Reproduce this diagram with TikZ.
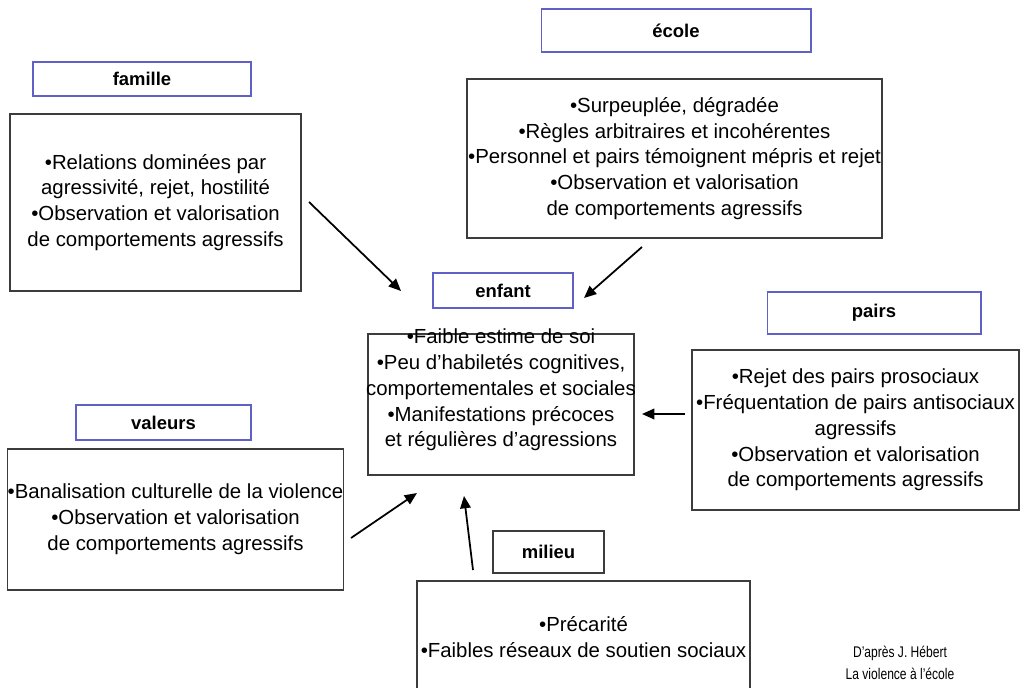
\documentclass[tikz,border=0pt]{standalone}
\usepackage{fontspec}
\setmainfont{Liberation Sans}
\newfontfamily\narrowfont{Liberation Sans}[FakeStretch=0.78]
\usetikzlibrary{arrows.meta}
\definecolor{titblue}{RGB}{96,96,200}
\definecolor{boxgray}{RGB}{60,60,60}

\begin{document}
\begin{tikzpicture}[x=0.02cm,y=-0.02cm,
  tit/.style={draw=titblue,line width=0.6pt,inner sep=0pt,
              font=\fontsize{10.5}{12}\selectfont\bfseries},
  bloc/.style={draw=boxgray,line width=0.8pt,align=center,inner sep=0pt,
               font=\fontsize{11.6}{14.7}\selectfont},
  txt/.style={align=center,inner sep=0pt,font=\fontsize{11.6}{14.7}\selectfont},
  fl/.style={-{Triangle[length=7pt,width=6pt]},line width=1pt}
]
\clip (0,0) rectangle (1021,688);
\node[tit,minimum width=4.36cm,minimum height=0.68cm] (famille) at (142,79) {famille};
\node[bloc,minimum width=5.82cm,minimum height=3.54cm] (familletxt) at (155.5,202.5)
  {•Relations dominées par\\agressivité, rejet, hostilité\\•Observation et valorisation\\de comportements agressifs};
\node[tit,minimum width=5.4cm,minimum height=0.86cm] (ecole) at (676,30.5) {école};
\node[bloc,minimum width=8.3cm,minimum height=3.18cm] (ecoletxt) at (674.5,158.5)
  {•Surpeuplée, dégradée\\•Règles arbitraires et incohérentes\\•Personnel et pairs témoignent mépris et rejet\\•Observation et valorisation\\de comportements agressifs};
\node[tit,minimum width=2.8cm,minimum height=0.7cm] (enfant) at (503,290.5) {enfant};
\node[bloc,minimum width=5.32cm,minimum height=2.82cm] (enfbox) at (501,404.5) {};
\node[txt] (enftxt) at (501,390)
  {•Faible estime de soi\\•Peu d’habiletés cognitives,\\comportementales et sociales\\•Manifestations précoces\\et régulières d’agressions};
\node[tit,minimum width=4.28cm,minimum height=0.84cm] (pairs) at (874,313) {pairs};
\node[bloc,minimum width=6.54cm,minimum height=3.2cm] (pairstxt) at (855.5,430)
  {•Rejet des pairs prosociaux\\•Fréquentation de pairs antisociaux\\agressifs\\•Observation et valorisation\\de comportements agressifs};
\node[tit,minimum width=3.5cm,minimum height=0.7cm] (valeurs) at (163.5,422.5) {valeurs};
\node[bloc,minimum width=6.66cm,minimum height=2.82cm] (valeurstxt) at (175.5,519.5)
  {•Banalisation culturelle de la violence\\•Observation et valorisation\\de comportements agressifs};
\node[tit,draw=boxgray,minimum width=2.22cm,minimum height=0.84cm] (milieu) at (548.5,552) {milieu};
\node[bloc,minimum width=6.66cm,minimum height=2.76cm] (milbox) at (583.5,650) {};
\node[txt] (miltxt) at (583.5,637) {•Précarité\\•Faibles réseaux de soutien sociaux};
\node[txt,font=\narrowfont\fontsize{8.8}{12.5}\selectfont] (source) at (900,663) {D’après J. Hébert\\La violence à l’école};
\coordinate (famout) at (309,202);
\coordinate (famin) at (401,291);
\coordinate (ecoleout) at (642,247);
\coordinate (ecolein) at (584,298);
\coordinate (pairsout) at (685,414);
\coordinate (pairsin) at (642,414);
\coordinate (valout) at (351,538);
\coordinate (valin) at (417,493);
\coordinate (milout) at (473,570);
\coordinate (milin) at (464,496);
\draw[fl] (famout) -- (famin);
\draw[fl] (ecoleout) -- (ecolein);
\draw[fl] (pairsout) -- (pairsin);
\draw[fl] (valout) -- (valin);
\draw[fl] (milout) -- (milin);
\end{tikzpicture}
\end{document}
